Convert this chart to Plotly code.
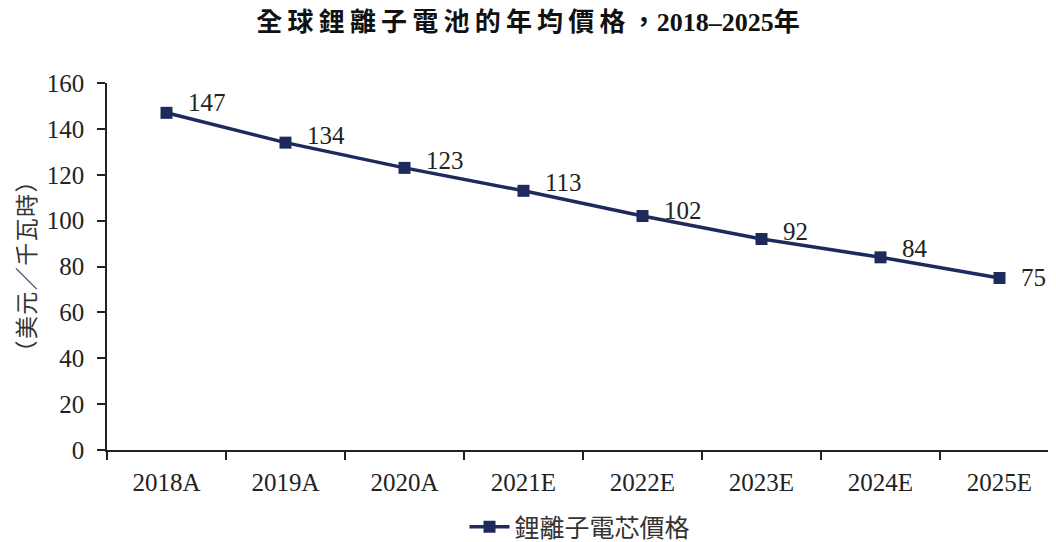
import plotly.graph_objects as go

categories = ["2018A", "2019A", "2020A", "2021E", "2022E", "2023E", "2024E", "2025E"]
prices = [147, 134, 123, 113, 102, 92, 84, 75]
label_yshift = [10, 7, 7, 8, 6, 7, 9, 0]

title_cjk = "全球鋰離子電池的年均價格"
title_tail = "，2018–2025年"
series_name = "鋰離子電芯價格"
y_title = "（美元／千瓦時）"

navy = "#1f2a5c"
serif = "Liberation Serif, Times New Roman, Noto Sans CJK TC, serif"
cjk = "Noto Sans CJK TC, sans-serif"
thin = "\u2009"
hair = "\u200a"

title_text = thin.join(title_cjk) + thin + title_tail

W, H = 1051, 534
L, R, T, B = 99, 0, 75, 92
PW, PH = W - L - R, H - T - B

fig = go.Figure()
fig.add_trace(go.Scatter(
    x=categories, y=prices, name=series_name, mode="lines+markers",
    line=dict(color=navy, width=3.5),
    marker=dict(symbol="square", size=12, color=navy),
))

for c, v, ys in zip(categories, prices, label_yshift):
    fig.add_annotation(x=c, y=v, text=str(v), showarrow=False, xanchor="left",
                       yanchor="middle", xshift=19, yshift=ys,
                       font=dict(family=serif, size=25, color="#222222"))

fig.add_annotation(xref="paper", yref="paper", x=(16 - L) / PW, y=0.5,
                   text=hair.join(y_title), textangle=-90, showarrow=False,
                   xanchor="center", yanchor="middle",
                   font=dict(family=cjk, size=23, color="#333333"))

fig.update_layout(
    width=W, height=H,
    paper_bgcolor="white", plot_bgcolor="white",
    margin=dict(l=L, r=R, t=T, b=B, autoexpand=False),
    title=dict(text="<b>" + title_text + "</b>", x=(1056 / 2 - 8) / W, xanchor="center", y=1 - 14 / H,
               yanchor="middle", font=dict(family=serif, size=26, color="#111111")),
    showlegend=True,
    legend=dict(orientation="h", x=(580 - 8 - L) / PW, xanchor="center", y=-(519 - (H - B)) / PH,
                yanchor="middle", font=dict(family=cjk, size=25, color="#333333"),
                itemwidth=40),
    xaxis=dict(type="category", range=[-0.5, 7.5], showline=True, linecolor="#222222", linewidth=1.5,
               ticks="outside", tickson="boundaries", ticklen=8, tickcolor="#222222", tickwidth=1.5,
               showgrid=False, automargin=False, ticklabelstandoff=9,
               tickfont=dict(family=serif, size=25, color="#222222")),
    yaxis=dict(range=[0, 160], dtick=20, showline=True, linecolor="#222222", linewidth=1.5,
               ticks="outside", ticklen=8, tickcolor="#222222", tickwidth=1.5, showgrid=False,
               zeroline=False, automargin=False, ticklabelstandoff=8,
               tickfont=dict(family=serif, size=25, color="#222222")),
)

fig.write_html("out.html")
